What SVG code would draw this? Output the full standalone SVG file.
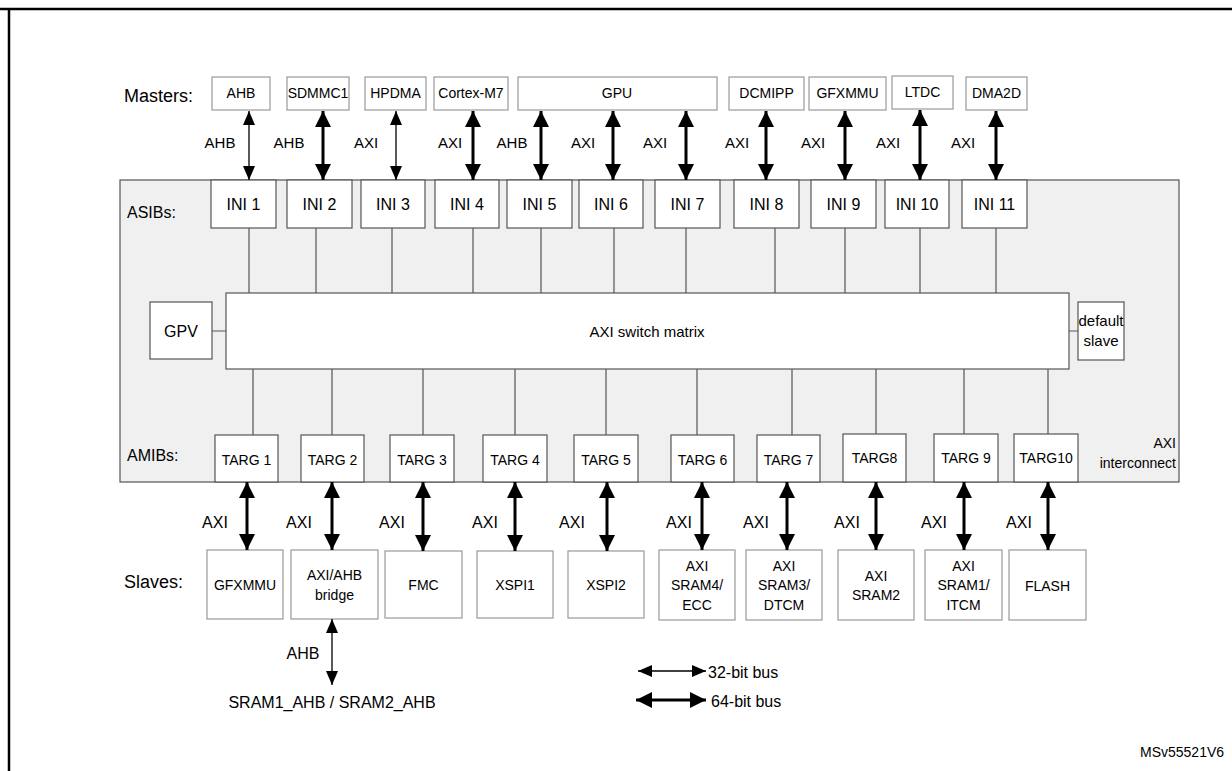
<svg xmlns="http://www.w3.org/2000/svg" width="1232" height="771" viewBox="0 0 1232 771">
<style>
text{font-family:"Liberation Sans",Arial,sans-serif;fill:#000}
.m rect{fill:#fff;stroke:#999;stroke-width:1.2}
.m text{font-size:14px;text-anchor:middle}
.b rect{fill:#fff;stroke:#555;stroke-width:1.2}
.ini text{font-size:16px;text-anchor:middle}
.tg text{font-size:14px;text-anchor:middle}
.s rect{fill:#fff;stroke:#999;stroke-width:1.2}
.s text{font-size:14px;text-anchor:middle}
.lbl{font-size:15px;text-anchor:middle}
.lb2{font-size:16px;text-anchor:middle}
.hd{font-size:18px}
.thick{stroke:#000;stroke-width:3;marker-start:url(#ak);marker-end:url(#ak)}
.thin{stroke:#000;stroke-width:1.3;marker-start:url(#an);marker-end:url(#an)}
.ln{stroke:#555;stroke-width:1.2}
</style>
<defs>
<marker id="ak" viewBox="0 0 16 16" refX="16" refY="8" markerWidth="16" markerHeight="16" markerUnits="userSpaceOnUse" orient="auto-start-reverse"><path d="M0,0L16,8L0,16z" fill="#000"/></marker>
<marker id="an" viewBox="0 0 14 12" refX="14" refY="6" markerWidth="14" markerHeight="12" markerUnits="userSpaceOnUse" orient="auto-start-reverse"><path d="M0,0L14,6L0,12z" fill="#000"/></marker>
</defs>
<rect width="1232" height="771" fill="#fff"/>
<path d="M0,9H1232M9,9V771" stroke="#000" stroke-width="2.5" fill="none"/>

<g id="interconnect"><rect x="120" y="180" width="1059" height="302" fill="#f0f0f0" stroke="#555" stroke-width="1.2"/>
<text x="1176" y="448" font-size="14" text-anchor="end">AXI</text><text x="1176" y="468" font-size="14" text-anchor="end">interconnect</text></g>

<text class="hd" x="124" y="102">Masters:</text>
<text x="127" y="218" font-size="16">ASIBs:</text>
<text x="127" y="461" font-size="16">AMIBs:</text>
<text class="hd" x="124" y="588">Slaves:</text>

<g class="m">
<g id="m-ahb"><rect x="212" y="77" width="58" height="33"/><text x="241" y="98">AHB</text></g>
<g id="m-sdmmc1"><rect x="287" y="77" width="62" height="33"/><text x="318" y="98">SDMMC1</text></g>
<g id="m-hpdma"><rect x="365" y="77" width="61" height="33"/><text x="395.5" y="98">HPDMA</text></g>
<g id="m-cortex"><rect x="434" y="77" width="74" height="33"/><text x="471" y="98">Cortex-M7</text></g>
<g id="m-gpu"><rect x="518" y="77" width="199" height="33"/><text x="617" y="98">GPU</text></g>
<g id="m-dcmipp"><rect x="729" y="77" width="75" height="33"/><text x="766.5" y="98">DCMIPP</text></g>
<g id="m-gfxmmu"><rect x="809" y="77" width="77" height="33"/><text x="847.5" y="98">GFXMMU</text></g>
<g id="m-ltdc"><rect x="892" y="76" width="61" height="33"/><text x="922.5" y="97">LTDC</text></g>
<g id="m-dma2d"><rect x="966" y="77" width="61" height="33"/><text x="996.5" y="98">DMA2D</text></g>
</g>

<g class="b ini">
<g id="ini1"><rect x="211" y="180" width="65" height="48"/><text x="243.5" y="210">INI 1</text></g>
<g id="ini2"><rect x="287" y="180" width="65" height="48"/><text x="319.5" y="210">INI 2</text></g>
<g id="ini3"><rect x="361" y="180" width="64" height="48"/><text x="393" y="210">INI 3</text></g>
<g id="ini4"><rect x="435" y="180" width="64" height="48"/><text x="467" y="210">INI 4</text></g>
<g id="ini5"><rect x="507" y="180" width="65" height="48"/><text x="539.5" y="210">INI 5</text></g>
<g id="ini6"><rect x="579" y="180" width="64" height="48"/><text x="611" y="210">INI 6</text></g>
<g id="ini7"><rect x="655" y="180" width="65" height="48"/><text x="687.5" y="210">INI 7</text></g>
<g id="ini8"><rect x="734" y="180" width="65" height="48"/><text x="766.5" y="210">INI 8</text></g>
<g id="ini9"><rect x="811" y="180" width="65" height="48"/><text x="843.5" y="210">INI 9</text></g>
<g id="ini10"><rect x="885" y="180" width="64" height="48"/><text x="917" y="210">INI 10</text></g>
<g id="ini11"><rect x="962" y="180" width="65" height="48"/><text x="994.5" y="210">INI 11</text></g>
</g>

<g class="b">
<g id="gpv"><rect x="150" y="302" width="62" height="57"/><text x="181" y="337" font-size="16" text-anchor="middle">GPV</text></g>
<g id="matrix"><rect x="226" y="293" width="843" height="76"/><text x="647" y="337" font-size="15" text-anchor="middle">AXI switch matrix</text></g>
<g id="default"><rect x="1078" y="302" width="46" height="58"/><text x="1101" y="326" font-size="15" text-anchor="middle">default</text><text x="1101" y="346" font-size="15" text-anchor="middle">slave</text></g>
</g>

<g class="b tg">
<g id="targ1"><rect x="215" y="435" width="63" height="47"/><text x="246.5" y="465">TARG 1</text></g>
<g id="targ2"><rect x="301" y="435" width="63" height="47"/><text x="332.5" y="465">TARG 2</text></g>
<g id="targ3"><rect x="390" y="435" width="64" height="47"/><text x="422" y="465">TARG 3</text></g>
<g id="targ4"><rect x="483" y="435" width="64" height="47"/><text x="515" y="465">TARG 4</text></g>
<g id="targ5"><rect x="574" y="435" width="64" height="47"/><text x="606" y="465">TARG 5</text></g>
<g id="targ6"><rect x="671" y="435" width="63" height="47"/><text x="702.5" y="465">TARG 6</text></g>
<g id="targ7"><rect x="757" y="435" width="63" height="47"/><text x="788.5" y="465">TARG 7</text></g>
<g id="targ8"><rect x="843" y="434" width="63" height="48"/><text x="874.5" y="463">TARG8</text></g>
<g id="targ9"><rect x="934" y="434" width="64" height="48"/><text x="966" y="463">TARG 9</text></g>
<g id="targ10"><rect x="1014" y="434" width="64" height="48"/><text x="1046" y="463">TARG10</text></g>
</g>

<g class="s">
<g id="s-gfxmmu"><rect x="207" y="550" width="76" height="69"/><text x="245" y="590">GFXMMU</text></g>
<g id="s-bridge"><rect x="291" y="550" width="87" height="69"/><text x="334.5" y="580">AXI/AHB</text><text x="334.5" y="600">bridge</text></g>
<g id="s-fmc"><rect x="385" y="551" width="77" height="67"/><text x="423.5" y="590">FMC</text></g>
<g id="s-xspi1"><rect x="477" y="551" width="76" height="67"/><text x="515" y="590">XSPI1</text></g>
<g id="s-xspi2"><rect x="568" y="551" width="76" height="67"/><text x="606" y="590">XSPI2</text></g>
<g id="s-sram4"><rect x="659" y="550" width="76" height="70"/><text x="697" y="571">AXI</text><text x="697" y="590">SRAM4/</text><text x="697" y="610">ECC</text></g>
<g id="s-sram3"><rect x="746" y="550" width="76" height="70"/><text x="784" y="571">AXI</text><text x="784" y="590">SRAM3/</text><text x="784" y="610">DTCM</text></g>
<g id="s-sram2"><rect x="838" y="550" width="76" height="70"/><text x="876" y="581">AXI</text><text x="876" y="600">SRAM2</text></g>
<g id="s-sram1"><rect x="925" y="550" width="77" height="70"/><text x="963.5" y="571">AXI</text><text x="963.5" y="590">SRAM1/</text><text x="963.5" y="610">ITCM</text></g>
<g id="s-flash"><rect x="1009" y="550" width="77" height="70"/><text x="1047.5" y="591">FLASH</text></g>
</g>

<g id="connectors">
<line class="thin" x1="249" y1="111" x2="249" y2="180"/>
<line class="thick" x1="323" y1="111" x2="323" y2="180"/>
<line class="thin" x1="396" y1="111" x2="396" y2="180"/>
<line class="thick" x1="473" y1="111" x2="473" y2="180"/>
<line class="thick" x1="541" y1="111" x2="541" y2="180"/>
<line class="thick" x1="613" y1="111" x2="613" y2="180"/>
<line class="thick" x1="686" y1="111" x2="686" y2="180"/>
<line class="thick" x1="766" y1="111" x2="766" y2="180"/>
<line class="thick" x1="845" y1="111" x2="845" y2="180"/>
<line class="thick" x1="920" y1="110" x2="920" y2="180"/>
<line class="thick" x1="996" y1="111" x2="996" y2="180"/>
<path class="ln" d="M249,228V293M316,228V293M392,228V293M473,228V293M541,228V293M614,228V293M686,228V293M775,228V293M845,228V293M920,228V293M996,228V293M212,331H226M1069,331H1078M253,369V435M332,369V435M423,369V435M515,369V435M606,369V435M697,369V435M792,369V435M876,369V434M964,369V434M1048,369V434"/>
<line class="thick" x1="247" y1="482" x2="247" y2="550"/>
<line class="thick" x1="332" y1="482" x2="332" y2="550"/>
<line class="thick" x1="423" y1="482" x2="423" y2="551"/>
<line class="thick" x1="515" y1="482" x2="515" y2="551"/>
<line class="thick" x1="607" y1="482" x2="607" y2="551"/>
<line class="thick" x1="702" y1="482" x2="702" y2="550"/>
<line class="thick" x1="787" y1="482" x2="787" y2="550"/>
<line class="thick" x1="876" y1="482" x2="876" y2="550"/>
<line class="thick" x1="964" y1="482" x2="964" y2="550"/>
<line class="thick" x1="1048" y1="482" x2="1048" y2="550"/>
<line class="thin" x1="332" y1="619" x2="332" y2="685"/>
<line class="thin" x1="638" y1="671" x2="706" y2="671"/>
<line class="thick" x1="636" y1="700" x2="706" y2="700"/>
</g>

<g id="labels">
<text class="lbl" x="220" y="148">AHB</text><text class="lbl" x="289" y="148">AHB</text><text class="lbl" x="366" y="148">AXI</text><text class="lbl" x="450" y="148">AXI</text><text class="lbl" x="512" y="148">AHB</text><text class="lbl" x="583" y="148">AXI</text><text class="lbl" x="655" y="148">AXI</text><text class="lbl" x="737" y="148">AXI</text><text class="lbl" x="813" y="148">AXI</text><text class="lbl" x="888" y="148">AXI</text><text class="lbl" x="963" y="148">AXI</text>
<text class="lb2" x="215" y="528">AXI</text><text class="lb2" x="299" y="528">AXI</text><text class="lb2" x="392" y="528">AXI</text><text class="lb2" x="485" y="528">AXI</text><text class="lb2" x="572" y="528">AXI</text><text class="lb2" x="679" y="528">AXI</text><text class="lb2" x="756" y="528">AXI</text><text class="lb2" x="847" y="528">AXI</text><text class="lb2" x="934" y="528">AXI</text><text class="lb2" x="1019" y="528">AXI</text>
<text class="lb2" x="303" y="659">AHB</text>
<text class="lb2" x="332" y="708">SRAM1_AHB / SRAM2_AHB</text>
<text x="708" y="678" font-size="16">32-bit bus</text>
<text x="711" y="707" font-size="16">64-bit bus</text>
<text x="1140" y="757" font-size="14">MSv55521V6</text>
</g>
</svg>
